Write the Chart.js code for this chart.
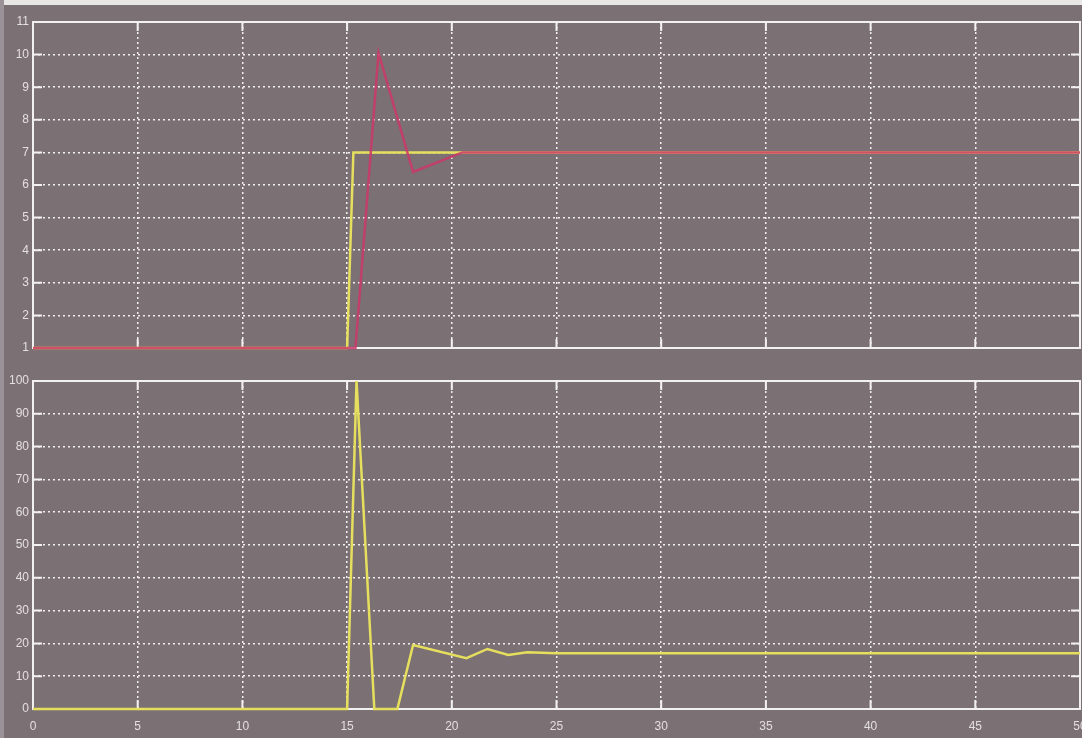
<!DOCTYPE html>
<html>
<head>
<meta charset="utf-8">
<script src="https://cdn.jsdelivr.net/npm/chart.js@4.4.1/dist/chart.umd.min.js"></script>
<style>
  html, body { margin: 0; padding: 0; }
  body {
    width: 1082px; height: 738px; overflow: hidden;
    background: #7b7074; position: relative;
  }
  #edge { position: absolute; left: 0; top: 0; width: 1082px; height: 5px; background: #e9e6e6; }
  #edgeL { position: absolute; left: 0; top: 0; width: 4px; height: 738px; background: #9a9296; }
  .box { position: absolute; left: 0; width: 1082px; }
  #topBox { top: 0; height: 362px; }
  #botBox { top: 362px; height: 376px; }
</style>
</head>
<body>
<div id="edge"></div>
<div id="edgeL"></div>
<div class="box" id="topBox"><canvas id="topChart"></canvas></div>
<div class="box" id="botBox"><canvas id="botChart"></canvas></div>
<script>
// ---- data ----
// top: set point (yellow) and response (red)
const setT = [0, 15, 15.3, 50];
const setY = [1, 1, 7, 7];
const outT = [0, 15.4, 16.5, 18.15, 20.5, 50];
const outY = [1, 1, 10.05, 6.4, 7, 7];
// bottom: controller output (yellow)
const ctrlT = [0, 15, 15.45, 16.3, 17.4, 18.15, 20.7, 21.7, 22.7, 23.6, 25, 50];
const ctrlY = [0, 0, 100, 0, 0, 19.5, 15.5, 18.3, 16.5, 17.3, 17, 17];

const xTicks = [0, 5, 10, 15, 20, 25, 30, 35, 40, 45, 50];
const topTicks = [1, 2, 3, 4, 5, 6, 7, 8, 9, 10, 11];
const botTicks = [0, 10, 20, 30, 40, 50, 60, 70, 80, 90, 100];

const YELLOW = "#e6df5e";
const RED = "rgba(205,55,105,0.85)";
const WHITE = "#f2f0f0";
const LABEL = "#e4dfe0";

const pts = (t, y) => t.map((v, i) => ({ x: v, y: y[i] }));

// white frame + inward tick marks like the scope window
const scopeFrame = {
    id: "scopeFrame",
    beforeDatasetsDraw(chart) {
        const { ctx, chartArea: a, scales } = chart;
        ctx.save();
        ctx.strokeStyle = WHITE;
        ctx.lineWidth = 2;
        ctx.strokeRect(a.left, a.top, a.right - a.left, a.bottom - a.top);
        ctx.beginPath();
        scales.y.ticks.forEach(t => {
            const py = scales.y.getPixelForValue(t.value);
            ctx.moveTo(a.left, py); ctx.lineTo(a.left + 9, py);
            ctx.moveTo(a.right - 9, py); ctx.lineTo(a.right, py);
        });
        scales.x.ticks.forEach(t => {
            const px = scales.x.getPixelForValue(t.value);
            ctx.moveTo(px, a.bottom); ctx.lineTo(px, a.bottom - 9);
            ctx.moveTo(px, a.top); ctx.lineTo(px, a.top + 9);
        });
        ctx.stroke();
        ctx.restore();
    }
};

function makeScales(yMin, yMax, yTickList, showX) {
    return {
        x: {
            type: "linear", min: 0, max: 50,
            afterBuildTicks: s => { s.ticks = xTicks.map(v => ({ value: v })); },
            grid: { color: WHITE, lineWidth: 1.5, drawTicks: false },
            border: { display: false, dash: [2, 3] },
            ticks: {
                display: showX, color: LABEL, padding: 10, maxRotation: 0,
                font: { family: "Liberation Sans", size: 12 }
            },
            afterFit: s => {
                s.height = showX ? 29 : 0;
                s.paddingLeft = 0; s.paddingRight = 0;
            }
        },
        y: {
            min: yMin, max: yMax,
            afterBuildTicks: s => { s.ticks = yTickList.map(v => ({ value: v })); },
            grid: { color: WHITE, lineWidth: 1.5, drawTicks: false },
            border: { display: false, dash: [2, 3] },
            ticks: {
                color: LABEL, padding: 4,
                font: { family: "Liberation Sans", size: 12 }
            },
            afterFit: s => { s.width = 33; }
        }
    };
}

const common = {
    responsive: true,
    maintainAspectRatio: false,
    animation: false,
    plugins: { legend: { display: false }, tooltip: { enabled: false } },
    elements: { point: { radius: 0 }, line: { tension: 0 } }
};

new Chart(document.getElementById("topChart"), {
    type: "line",
    data: {
        datasets: [
            // red response drawn on top of the yellow set point
            { data: pts(outT, outY), borderColor: RED, borderWidth: 2.5, clip: false, order: 0 },
            { data: pts(setT, setY), borderColor: YELLOW, borderWidth: 2.5, clip: false, order: 1 }
        ]
    },
    options: Object.assign({}, common, {
        layout: { padding: { top: 22, bottom: 14, left: 0, right: 2 } },
        scales: makeScales(1, 11, topTicks, false)
    }),
    plugins: [scopeFrame]
});

new Chart(document.getElementById("botChart"), {
    type: "line",
    data: {
        datasets: [
            { data: pts(ctrlT, ctrlY), borderColor: YELLOW, borderWidth: 2.5, clip: false }
        ]
    },
    options: Object.assign({}, common, {
        layout: { padding: { top: 19, bottom: 0, left: 0, right: 2 } },
        scales: makeScales(0, 100, botTicks, true)
    }),
    plugins: [scopeFrame]
});
</script>
</body>
</html>
